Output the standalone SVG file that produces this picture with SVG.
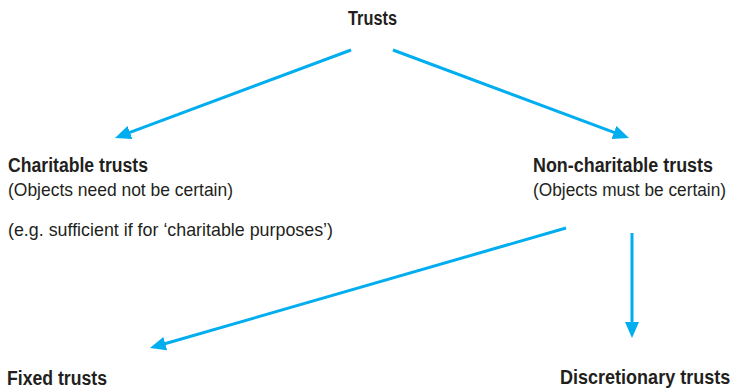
<svg xmlns="http://www.w3.org/2000/svg" width="734" height="389" viewBox="0 0 734 389">
<defs>
<style>
.b{font-family:"Liberation Sans",Arial,sans-serif;font-weight:bold;font-size:19.5px;fill:#231f20}
.r{font-family:"Liberation Sans",Arial,sans-serif;font-size:18.5px;fill:#231f20}
.c{stroke:#00aeef;stroke-width:3;fill:none;marker-end:url(#ah)}
</style>
<marker id="ah" markerUnits="userSpaceOnUse" markerWidth="18" markerHeight="16" refX="5" refY="7" orient="auto" viewBox="0 0 18 16">
<path d="M0,0 L16,7 L0,14 z" fill="#00aeef"/>
</marker>
</defs>
<rect width="734" height="389" fill="#fff"/>
<g id="connectors">
<line class="c" x1="351" y1="50" x2="125.3" y2="134.2"/>
<line class="c" x1="393" y1="50" x2="618.7" y2="134.2"/>
<line class="c" x1="566" y1="228" x2="160.5" y2="345"/>
<line class="c" x1="632" y1="233" x2="632" y2="327"/>
</g>
<g id="trusts"><text class="b" x="348" y="25" textLength="49" lengthAdjust="spacingAndGlyphs">Trusts</text></g>
<g id="charitable">
<text class="b" x="8" y="172" textLength="140" lengthAdjust="spacingAndGlyphs">Charitable trusts</text>
<text class="r" x="8" y="196" textLength="225" lengthAdjust="spacingAndGlyphs">(Objects need not be certain)</text>
<text class="r" x="8" y="236" textLength="325" lengthAdjust="spacingAndGlyphs">(e.g. sufficient if for ‘charitable purposes’)</text>
</g>
<g id="noncharitable">
<text class="b" x="533" y="172" textLength="180" lengthAdjust="spacingAndGlyphs">Non-charitable trusts</text>
<text class="r" transform="translate(533,196) scale(0.935,1)">(Objects must be certain)</text>
</g>
<g id="fixed"><text class="b" x="7" y="385" textLength="100" lengthAdjust="spacingAndGlyphs">Fixed trusts</text></g>
<g id="discretionary"><text class="b" transform="translate(560,384) scale(0.925,1)">Discretionary trusts</text></g>
</svg>
